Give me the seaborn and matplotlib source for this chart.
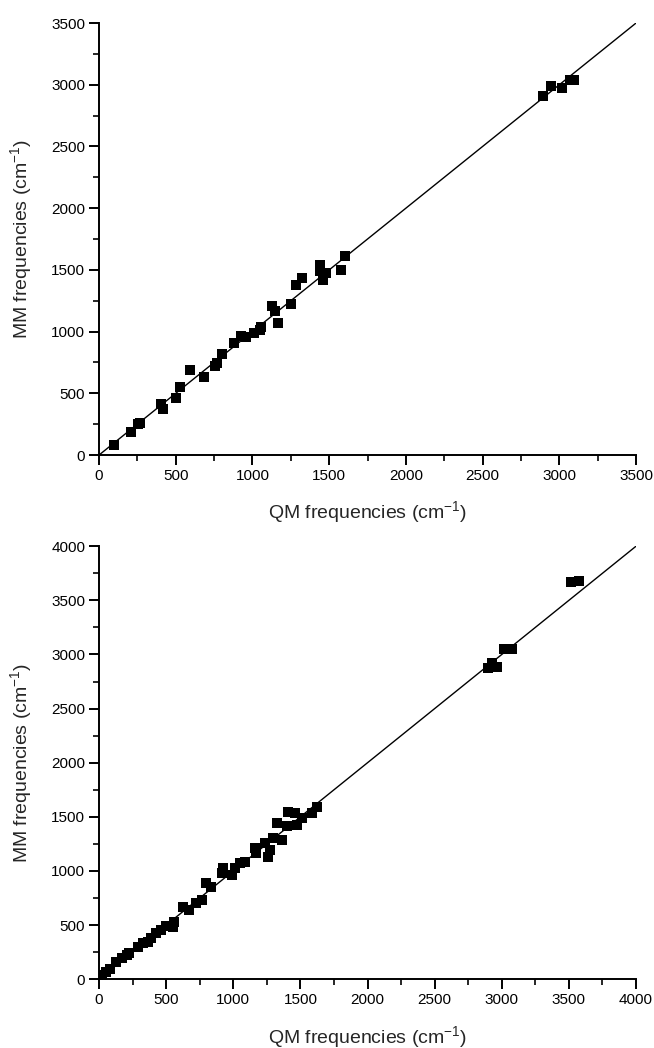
import matplotlib
matplotlib.use('Agg')
import matplotlib.pyplot as plt
import pandas as pd
import seaborn as sns
from matplotlib.ticker import MultipleLocator

# QM vs MM vibrational frequencies (cm-1)
top_qm = [95, 210, 255, 270, 405, 420, 503, 529, 590, 683, 753, 770, 803, 877,
          927, 959, 1013, 1046, 1057, 1129, 1144, 1166, 1249, 1281, 1325, 1438,
          1440, 1459, 1481, 1574, 1600, 2893, 2948, 3020, 3072, 3093]
top_mm = [85, 184, 250, 262, 413, 372, 466, 555, 687, 636, 722, 749, 816, 910,
          964, 958, 990, 1017, 1039, 1206, 1165, 1071, 1224, 1375, 1434, 1542,
          1488, 1421, 1474, 1501, 1614, 2913, 2993, 2972, 3042, 3042]

bottom_qm = [15, 25, 50, 80, 130, 170, 205, 225, 287, 324, 362, 387, 424, 462,
             499, 549, 561, 629, 669, 724, 768, 798, 836, 918, 923, 993, 1010,
             1048, 1085, 1160, 1173, 1235, 1260, 1272, 1297, 1327, 1360, 1410,
             1397, 1460, 1472, 1510, 1584, 1622, 2900, 2930, 2967, 3017, 3049,
             3079, 3513, 3575]
bottom_mm = [20, 40, 71, 92, 163, 194, 225, 246, 302, 333, 348, 379, 425, 456,
             496, 487, 533, 671, 641, 702, 733, 887, 850, 979, 1026, 964, 1026,
             1072, 1087, 1210, 1164, 1257, 1133, 1195, 1303, 1441, 1287, 1549,
             1411, 1534, 1426, 1488, 1534, 1595, 2872, 2918, 2886, 3047, 3047,
             3047, 3671, 3681]

top_line = [0, 3500]
bottom_line = [0, 4000]

sns.set_style('ticks')
plt.rcParams['font.family'] = ['Liberation Sans', 'DejaVu Sans']
plt.rcParams['mathtext.fontset'] = 'custom'
plt.rcParams['mathtext.rm'] = 'Liberation Sans'
plt.rcParams['mathtext.it'] = 'Liberation Sans'

fig = plt.figure(figsize=(6.54, 10.48), dpi=100)
ax_top = fig.add_axes([0.1514, 0.5658, 0.8211, 0.4122])
ax_bot = fig.add_axes([0.1514, 0.0656, 0.8211, 0.4132])

panels = [
    (ax_top, top_qm, top_mm, top_line, 3500),
    (ax_bot, bottom_qm, bottom_mm, bottom_line, 4000),
]

for ax, qm, mm, line, lim in panels:
    df = pd.DataFrame({'qm': qm, 'mm': mm})
    sns.lineplot(x=line, y=line, color='black', linewidth=1.0, ax=ax)
    sns.scatterplot(data=df, x='qm', y='mm', marker='s', s=52, color='black',
                    linewidth=0, ax=ax, zorder=3)
    ax.set_xlim(0, lim)
    ax.set_ylim(0, lim)
    ax.xaxis.set_major_locator(MultipleLocator(500))
    ax.yaxis.set_major_locator(MultipleLocator(500))
    ax.xaxis.set_minor_locator(MultipleLocator(250))
    ax.yaxis.set_minor_locator(MultipleLocator(250))
    ax.tick_params(which='major', direction='out', length=7, width=1.4,
                   labelsize=11, pad=3, colors='black')
    ax.tick_params(which='minor', direction='out', length=4, width=1.4)
    ax.set_xlabel(r'QM frequencies (cm$^{-1}$)', fontsize=14, labelpad=12)
    ax.set_ylabel(r'MM frequencies (cm$^{-1}$)', fontsize=14, labelpad=12)
    for side in ['top', 'right']:
        ax.spines[side].set_visible(False)
    for side in ['left', 'bottom']:
        ax.spines[side].set_linewidth(1.4)
        ax.spines[side].set_color('black')
    ax.spines['left'].set_position(('outward', 0))

fig.savefig('out.png', dpi=100)
